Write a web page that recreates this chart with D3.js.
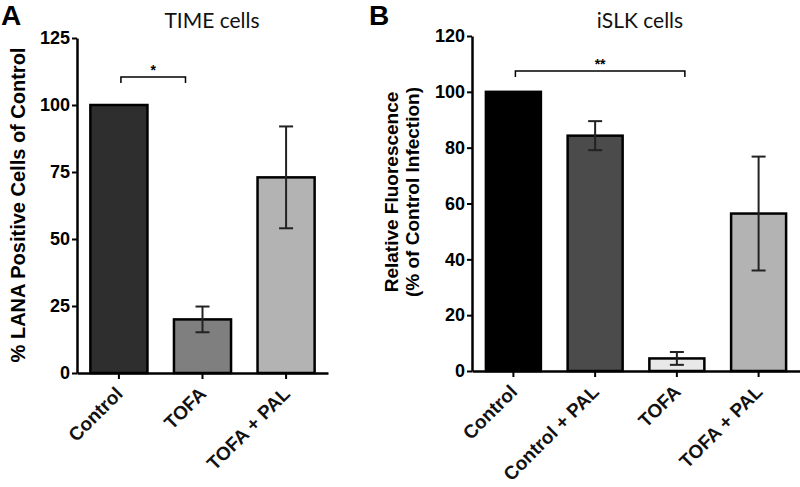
<!DOCTYPE html>
<html><head><meta charset="utf-8">
<script src="https://cdn.jsdelivr.net/npm/d3@7"></script>
<style>body{margin:0;background:#fff}</style>
</head><body>
<svg id="c" width="800" height="487"></svg>
<script>
// Panel A data
const catsA = ["Control", "TOFA", "TOFA + PAL"];
const valsA = [100, 20, 73];
const errA = [0, 4.8, 19];
const colorsA = ["#2e2e2e", "#7f7f7f", "#b3b3b3"];
const ticksA = [0, 25, 50, 75, 100, 125];
// Panel B data
const catsB = ["Control", "Control + PAL", "TOFA", "TOFA + PAL"];
const valsB = [100, 84.3, 4.5, 56.4];
const errB = [0, 5.2, 2.3, 20.4];
const colorsB = ["#000000", "#4b4b4b", "#e8e8e8", "#b3b3b3"];
const ticksB = [0, 20, 40, 60, 80, 100, 120];

const svg = d3.select("#c");
const bold = "'Liberation Sans', Arial, sans-serif";

function panel(cfg){
  const g = svg.append("g");
  const x = d3.scaleBand().domain(cfg.cats).range([cfg.x0, cfg.x1]).paddingInner(cfg.pi).paddingOuter(cfg.po);
  const y = d3.scaleLinear().domain([0, cfg.ymax]).range([cfg.yb, cfg.yt]);
  // bars
  g.selectAll("rect.bar").data(cfg.cats).enter().append("rect")
    .attr("x", d => x(d)).attr("width", x.bandwidth())
    .attr("y", (d,i) => y(cfg.vals[i])).attr("height", (d,i) => y(0) - y(cfg.vals[i]))
    .attr("fill", (d,i) => cfg.colors[i]).attr("stroke", "#000").attr("stroke-width", 2.5);
  // error bars
  cfg.cats.forEach((d,i) => {
    if (!cfg.err[i]) return;
    const cx = x(d) + x.bandwidth()/2;
    const hi = y(cfg.vals[i] + cfg.err[i]), lo = y(cfg.vals[i] - cfg.err[i]);
    const ec = "#222";
    g.append("line").attr("x1", cx).attr("x2", cx).attr("y1", hi).attr("y2", lo).attr("stroke", ec).attr("stroke-width", 2);
    [hi, lo].forEach(yy => g.append("line").attr("x1", cx-7).attr("x2", cx+7).attr("y1", yy).attr("y2", yy).attr("stroke", ec).attr("stroke-width", 2));
  });
  // y axis
  const ya = g.append("g").attr("transform", `translate(${cfg.x0},0)`)
    .call(d3.axisLeft(y).tickValues(cfg.ticks).tickSize(5).tickSizeOuter(0).tickPadding(2));
  ya.select(".domain").attr("stroke", "#000").attr("stroke-width", 2.5);
  ya.selectAll(".tick line").attr("stroke", "#000").attr("stroke-width", 2);
  ya.selectAll(".tick text").attr("font-family", bold).attr("font-weight", "bold").attr("font-size", 18).attr("fill", "#000");
  // x axis
  const xa = g.append("g").attr("transform", `translate(0,${cfg.yb})`)
    .call(d3.axisBottom(x).tickSize(6).tickSizeOuter(0));
  xa.select(".domain").attr("stroke", "#000").attr("stroke-width", 2.5);
  xa.selectAll(".tick line").attr("stroke", "#000").attr("stroke-width", 2);
  xa.selectAll(".tick text").remove();
  xa.selectAll(".tick").append("text")
    .attr("transform", "translate(5,22) rotate(-45)")
    .attr("text-anchor", "end")
    .attr("font-family", bold).attr("font-weight", "bold").attr("font-size", 19).attr("fill", "#111")
    .text(d => d);
  // bracket
  const b = cfg.bracket;
  const bx1 = x(cfg.cats[b.from]) + x.bandwidth()/2 + b.dx1, bx2 = x(cfg.cats[b.to]) + x.bandwidth()/2 + b.dx2;
  g.append("path").attr("d", `M${bx1},${b.y+6}V${b.y}H${bx2}V${b.y+6}`).attr("fill", "none").attr("stroke", "#000").attr("stroke-width", 1.5);
  g.append("text").attr("x", (bx1+bx2)/2).attr("y", b.y - 2).attr("text-anchor", "middle")
    .attr("font-family", bold).attr("font-weight", "bold").attr("font-size", 14).text(b.label);
  // title
  g.append("text").attr("x", cfg.tx).attr("y", 28).attr("text-anchor", "middle")
    .attr("font-family", "Lato, 'Open Sans', sans-serif").attr("font-size", 21).attr("fill", "#111").text(cfg.title);
  // panel letter
  g.append("text").attr("x", cfg.lx).attr("y", 25).attr("font-family", bold).attr("font-weight", "bold").attr("font-size", 28).text(cfg.letter);
  // y label
  cfg.ylabel.forEach((t, k) => {
    g.append("text").attr("transform", `translate(${cfg.ylx + k*cfg.lineGap},${cfg.yly}) rotate(-90)`)
      .attr("text-anchor", "middle").attr("font-family", bold).attr("font-weight", "bold").attr("font-size", cfg.ylfs)
      .attr("dy", "0.35em").text(t);
  });
}

panel({cats: catsA, vals: valsA, err: errA, colors: colorsA, ticks: ticksA, ymax: 125,
  x0: 77, x1: 328, pi: 0.317, po: 0.16, yb: 373, yt: 38,
  bracket: {from: 0, to: 1, y: 77, label: "*", dx1: 2, dx2: -17},
  title: "TIME cells", tx: 212, letter: "A", lx: 1, ylabel: ["% LANA Positive Cells of Control"], ylx: 18, yly: 205, ylfs: 20, lineGap: 0});

panel({cats: catsB, vals: valsB, err: errB, colors: colorsB, ticks: ticksB, ymax: 120,
  x0: 472, x1: 800, pi: 0.327, po: 0.17, yb: 371, yt: 36,
  bracket: {from: 0, to: 2, y: 71, label: "**", dx1: 2, dx2: 8},
  title: "iSLK cells", tx: 640, letter: "B", lx: 369, ylabel: ["Relative Fluorescence", "(% of Control Infection)"], ylx: 391, yly: 192, ylfs: 19, lineGap: 21});
</script>
</body></html>
